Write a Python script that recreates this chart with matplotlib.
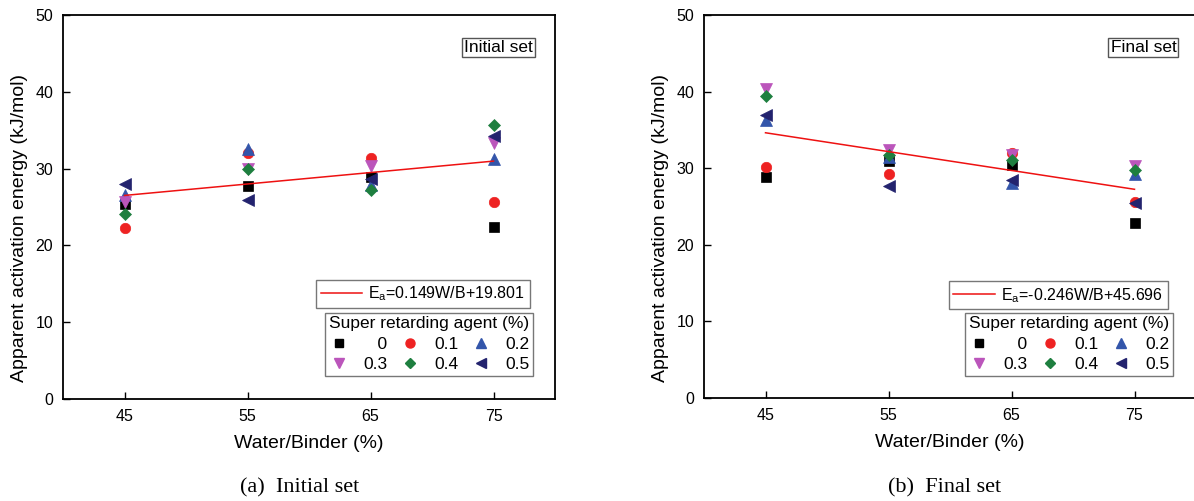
import numpy as np
import matplotlib.pyplot as plt
from matplotlib.lines import Line2D

plt.rcParams['font.family'] = ['Liberation Sans', 'DejaVu Sans']

wb = [45, 55, 65, 75]
agents = ["0", "0.1", "0.2", "0.3", "0.4", "0.5"]

# Initial set, one list per retarding agent dosage
initial = {
    "0":   [25.4, 27.7, 28.9, 22.4],
    "0.1": [22.3, 32.0, 31.4, 25.7],
    "0.2": [26.6, 32.6, 27.8, 31.2],
    "0.3": [25.7, 30.0, 30.3, 33.3],
    "0.4": [24.1, 29.9, 27.2, 35.7],
    "0.5": [28.0, 25.9, 28.6, 34.3],
}
# Final set
final = {
    "0":   [28.8, 30.9, 30.4, 22.9],
    "0.1": [30.1, 29.2, 32.0, 25.6],
    "0.2": [36.3, 31.4, 28.1, 29.3],
    "0.3": [40.3, 32.4, 31.7, 30.3],
    "0.4": [39.4, 31.7, 31.1, 29.7],
    "0.5": [36.9, 27.7, 28.5, 25.5],
}
fit_initial = (0.149, 19.801)
fit_final = (-0.246, 45.696)

markers = {"0": "s", "0.1": "o", "0.2": "^", "0.3": "v", "0.4": "D", "0.5": "<"}
colors = {"0": "black", "0.1": "#ee2222", "0.2": "#3355aa", "0.3": "#bb55bb",
          "0.4": "#1e7f3f", "0.5": "#23236e"}
sizes = {"0": 6.5, "0.1": 7.5, "0.2": 8, "0.3": 8, "0.4": 6.5, "0.5": 8}

fig = plt.figure(figsize=(11.94, 5.01), dpi=100)
W, H = 1194, 501
ax1 = fig.add_axes([63 / W, (H - 399) / H, (555 - 63) / W, 384 / H])
ax2 = fig.add_axes([704 / W, (H - 398) / H, (1196 - 704) / W, 383 / H])


def draw(ax, data, fit, tag, eq, tag_x, fit_anchor, leg_anchor):
    for a in agents:
        ax.plot(wb, data[a], ls="none", marker=markers[a], color=colors[a],
                ms=sizes[a], mec=colors[a], mew=0.5, zorder=3)
    xs = np.array([wb[0], wb[-1]])
    ax.plot(xs, fit[0] * xs + fit[1], color="#ee1111", lw=1.1, zorder=4)
    ax.set_xlim(40, 80)
    ax.set_ylim(0, 50)
    ax.set_xticks(wb)
    ax.set_yticks(range(0, 51, 10))
    ax.tick_params(direction="in", length=5, width=1, labelsize=11.5, pad=7)
    for s in ax.spines.values():
        s.set_linewidth(1.3)
    ax.set_xlabel("Water/Binder (%)", fontsize=14, labelpad=8)
    ax.set_ylabel("Apparent activation energy (kJ/mol)", fontsize=14)
    ax.yaxis.set_label_coords(-0.071, 0.445)
    ax.text(tag_x, 0.915, tag, transform=ax.transAxes, ha="right", va="center",
            fontsize=12.5,
            bbox=dict(boxstyle="square,pad=0.12", fc="white", ec="#555555", lw=1))

    fit_h = [Line2D([], [], color="#ee1111", lw=1.1)]
    leg1 = ax.legend(fit_h, [eq], loc="upper right", bbox_to_anchor=fit_anchor,
                     borderaxespad=0, fontsize=11.5, frameon=True, fancybox=False,
                     edgecolor="#555555", handlelength=2.6, borderpad=0.3,
                     handletextpad=0.4)
    leg1.get_frame().set_linewidth(1)
    ax.add_artist(leg1)

    order = ["0", "0.3", "0.1", "0.4", "0.2", "0.5"]
    shown = {"0": "\u2007\u20080", "0.1": "0.1", "0.2": "0.2",
             "0.3": "0.3", "0.4": "0.4", "0.5": "0.5"}
    hs = [Line2D([], [], ls="none", marker=markers[a], color=colors[a], ms=sizes[a] - 1)
          for a in order]
    leg2 = ax.legend(hs, [shown[a] for a in order], ncol=3, loc="upper right",
                     bbox_to_anchor=leg_anchor, borderaxespad=0,
                     title="Super retarding agent (%)", title_fontsize=12.5,
                     fontsize=12.5, frameon=True, fancybox=False, edgecolor="#555555",
                     columnspacing=0.7, handletextpad=0.8, borderpad=0.2,
                     labelspacing=0.3, handlelength=1.2)
    leg2.get_frame().set_linewidth(1)


draw(ax1, initial, fit_initial, "Initial set", r"E$_\mathregular{a}$=0.149W/B+19.801",
     0.955, (0.949, 0.31), (0.955, 0.224))
draw(ax2, final, fit_final, "Final set", r"E$_\mathregular{a}$=-0.246W/B+45.696",
     0.96, (0.943, 0.305), (0.953, 0.222))

fig.text(300 / W, 1 - 488 / H, "(a)  Initial set", ha="center", va="center",
         fontsize=16, family="Liberation Serif")
fig.text(945 / W, 1 - 488 / H, "(b)  Final set", ha="center", va="center",
         fontsize=16, family="Liberation Serif")

fig.savefig("out.png", dpi=100)
